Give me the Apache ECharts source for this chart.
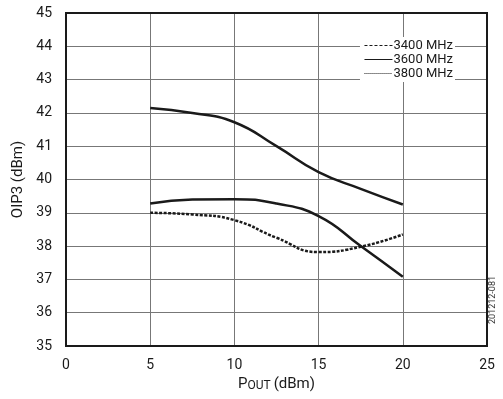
<!DOCTYPE html>
<html>
<head>
<meta charset="utf-8">
<script src="https://cdn.jsdelivr.net/npm/echarts@6/dist/echarts.min.js"></script>
<style>
  html, body { margin: 0; padding: 0; background: #fff; }
  #chart { width: 503px; height: 399px; }
</style>
</head>
<body>
<div id="chart"></div>
<script>
// x positions (dBm) for all curves
const pout = [5, 7.5, 10, 12.5, 15, 17.5, 20];
const oip3_3400 = [39.0, 38.95, 38.78, 38.25, 37.82, 37.98, 38.35];
const oip3_3600 = [42.15, 42.0, 41.72, 41.0, 40.22, 39.72, 39.25];
const oip3_3800 = [39.28, 39.4, 39.41, 39.28, 38.9, 38.0, 37.08];
const seriesNames = ['3400 MHz', '3600 MHz', '3800 MHz'];

const font = "'Liberation Sans Narrow', 'Roboto', sans-serif";
const pair = (ys) => pout.map((x, i) => [x, ys[i]]);

let chart = echarts.init(document.getElementById('chart'));

let mkLine = (name, ys, type) => ({
  name: name,
  type: 'line',
  smooth: 0.5,
  symbol: 'none',
  data: pair(ys),
  lineStyle: { color: '#1a1a1a', width: 2.5, type: type },
  z: 3
});

let option = {
  animation: false,
  textStyle: { fontFamily: font },
  grid: { left: 66, right: 16, top: 13, bottom: 53 },
  legend: {
    orient: 'vertical',
    right: 48,
    top: 37,
    itemWidth: 28,
    itemHeight: 8,
    itemGap: 1,
    padding: [2, 2, 2, 4],
    backgroundColor: '#fff',
    itemStyle: { color: 'transparent', borderWidth: 0 },
    textStyle: { fontFamily: font, fontSize: 13, color: '#1a1a1a', padding: [0, 0, 0, -4] },
    data: [
      { name: seriesNames[0], lineStyle: { type: [3, 2], width: 1, color: '#1a1a1a' } },
      { name: seriesNames[1], lineStyle: { type: 'solid', width: 1, color: '#1a1a1a' } },
      { name: seriesNames[2], lineStyle: { type: [1, 1], width: 1, color: '#1a1a1a' } }
    ],
    z: 5
  },
  xAxis: {
    type: 'value',
    min: 0,
    max: 25,
    interval: 5,
    name: '{p|P}{s|OUT} {p|(dBm)}',
    nameLocation: 'middle',
    nameGap: 28,
    nameTextStyle: {
      rich: {
        p: { fontFamily: font, fontSize: 15, color: '#1a1a1a' },
        s: { fontFamily: font, fontSize: 12, color: '#1a1a1a', verticalAlign: 'bottom' }
      }
    },
    axisLine: { show: true, onZero: false, lineStyle: { color: '#1a1a1a', width: 2 } },
    axisTick: { show: false },
    axisLabel: { fontFamily: font, fontSize: 14, color: '#1a1a1a', margin: 12 },
    splitLine: { show: true, lineStyle: { color: '#777', width: 1 } }
  },
  yAxis: {
    type: 'value',
    min: 35,
    max: 45,
    interval: 1,
    name: 'OIP3 (dBm)',
    nameLocation: 'middle',
    nameGap: 34,
    nameTextStyle: { fontFamily: font, fontSize: 15, color: '#1a1a1a' },
    axisLine: { show: true, onZero: false, lineStyle: { color: '#1a1a1a', width: 2 } },
    axisTick: { show: false },
    axisLabel: { fontFamily: font, fontSize: 14, color: '#1a1a1a', margin: 14 },
    splitLine: { show: true, lineStyle: { color: '#777', width: 1 } }
  },
  graphic: [
    {
      // frame on the top and right side
      type: 'rect',
      shape: { x: 66, y: 13, width: 421, height: 333 },
      style: { fill: 'none', stroke: '#1a1a1a', lineWidth: 2 },
      z: 10
    },
    {
      type: 'text',
      x: 493,
      y: 300,
      rotation: Math.PI / 2,
      style: {
        text: '201212-081',
        fontFamily: font,
        fontSize: 9,
        fill: '#333',
        align: 'center',
        verticalAlign: 'middle'
      }
    }
  ],
  series: [
    mkLine(seriesNames[0], oip3_3400, [3, 1.5]),
    mkLine(seriesNames[1], oip3_3600, 'solid'),
    mkLine(seriesNames[2], oip3_3800, 'solid')
  ]
};

chart.setOption(option);
</script>
</body>
</html>
